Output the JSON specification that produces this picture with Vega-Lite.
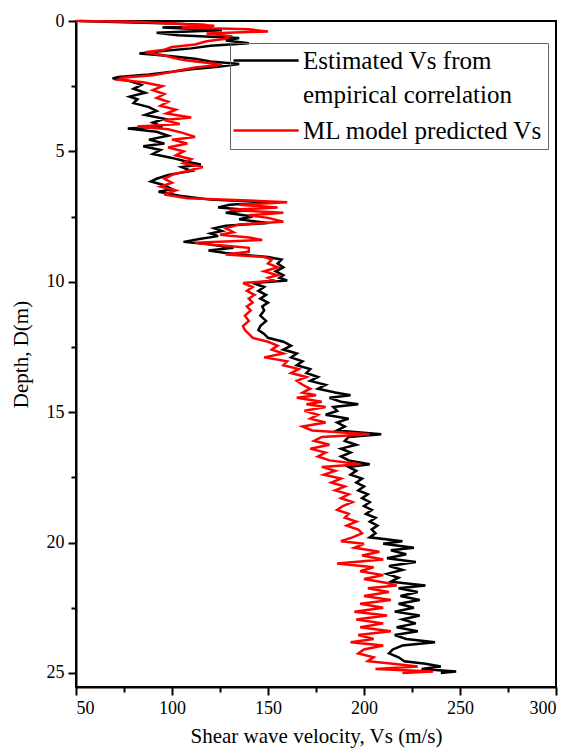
{
  "$schema": "https://vega.github.io/schema/vega-lite/v6.json",
  "width": 480,
  "height": 666,
  "autosize": {"type": "none"},
  "padding": {"left": 76, "top": 21, "right": 18, "bottom": 66},
  "background": "white",
  "config": {
    "font": "Liberation Serif",
    "view": {"stroke": "black", "strokeWidth": 2},
    "axis": {
      "labelFont": "Liberation Serif", "labelFontSize": 18, "labelColor": "#000",
      "titleFont": "Liberation Serif", "titleFontSize": 21, "titleFontWeight": "normal", "titleColor": "#000",
      "domainColor": "#000", "domainWidth": 2, "tickColor": "#000", "tickWidth": 2, "tickSize": 8, "grid": false
    },
    "legend": {
      "labelFont": "Liberation Serif", "labelFontSize": 25, "labelColor": "#000", "labelLimit": 500,
      "strokeColor": "#666", "strokeWidth": 1, "padding": 5, "symbolType": "M-1.75,0H6.4",
      "symbolSize": 256, "symbolStrokeWidth": 2.5, "labelOffset": 43, "rowPadding": 10
    }
  },
  "resolve": {"axis": {"x": "independent", "y": "independent"}},
  "datasets": {
    "E": [
      {"depth":0.00,"vs":52},{"depth":0.05,"vs":75},{"depth":0.10,"vs":100},{"depth":0.15,"vs":118},{"depth":0.25,"vs":95},{"depth":0.35,"vs":126},{"depth":0.45,"vs":92},{"depth":0.55,"vs":103},{"depth":0.65,"vs":135},{"depth":0.75,"vs":128},{"depth":0.85,"vs":140},{"depth":0.95,"vs":120},{"depth":1.05,"vs":110},{"depth":1.15,"vs":95},{"depth":1.25,"vs":83},{"depth":1.35,"vs":100},{"depth":1.45,"vs":112},{"depth":1.55,"vs":120},{"depth":1.65,"vs":135},{"depth":1.75,"vs":124},{"depth":1.85,"vs":110},{"depth":1.95,"vs":100},{"depth":2.05,"vs":88},{"depth":2.15,"vs":72},{"depth":2.20,"vs":69},{"depth":2.30,"vs":78},{"depth":2.45,"vs":84},{"depth":2.6,"vs":80},{"depth":2.75,"vs":86},{"depth":2.9,"vs":78},{"depth":3.0,"vs":82},{"depth":3.15,"vs":80},{"depth":3.3,"vs":88},{"depth":3.45,"vs":92},{"depth":3.6,"vs":86},{"depth":3.75,"vs":96},{"depth":3.9,"vs":90},{"depth":4.05,"vs":95},{"depth":4.12,"vs":77},{"depth":4.25,"vs":92},{"depth":4.4,"vs":98},{"depth":4.55,"vs":88},{"depth":4.7,"vs":96},{"depth":4.8,"vs":85},{"depth":4.95,"vs":94},{"depth":5.1,"vs":90},{"depth":5.25,"vs":100},{"depth":5.4,"vs":108},{"depth":5.5,"vs":115},{"depth":5.6,"vs":105},{"depth":5.75,"vs":110},{"depth":5.9,"vs":98},{"depth":6.05,"vs":92},{"depth":6.15,"vs":89},{"depth":6.3,"vs":96},{"depth":6.45,"vs":100},{"depth":6.55,"vs":93},{"depth":6.7,"vs":104},{"depth":6.85,"vs":120},{"depth":6.95,"vs":150},{"depth":7.05,"vs":130},{"depth":7.15,"vs":124},{"depth":7.25,"vs":140},{"depth":7.35,"vs":128},{"depth":7.5,"vs":142},{"depth":7.6,"vs":135},{"depth":7.75,"vs":150},{"depth":7.85,"vs":128},{"depth":7.95,"vs":122},{"depth":8.05,"vs":126},{"depth":8.15,"vs":120},{"depth":8.25,"vs":124},{"depth":8.35,"vs":115},{"depth":8.47,"vs":106},{"depth":8.55,"vs":118},{"depth":8.7,"vs":132},{"depth":8.8,"vs":119},{"depth":8.9,"vs":128},{"depth":9.05,"vs":150},{"depth":9.15,"vs":157},{"depth":9.3,"vs":155},{"depth":9.45,"vs":158},{"depth":9.6,"vs":154},{"depth":9.75,"vs":158},{"depth":9.85,"vs":156},{"depth":9.95,"vs":160},{"depth":10.05,"vs":142},{"depth":10.2,"vs":148},{"depth":10.35,"vs":145},{"depth":10.5,"vs":149},{"depth":10.65,"vs":146},{"depth":10.8,"vs":150},{"depth":10.95,"vs":147},{"depth":11.1,"vs":148},{"depth":11.3,"vs":146},{"depth":11.5,"vs":149},{"depth":11.7,"vs":146},{"depth":11.85,"vs":145},{"depth":12.0,"vs":148},{"depth":12.15,"vs":150},{"depth":12.3,"vs":158},{"depth":12.45,"vs":162},{"depth":12.6,"vs":158},{"depth":12.75,"vs":165},{"depth":12.9,"vs":162},{"depth":13.05,"vs":168},{"depth":13.2,"vs":165},{"depth":13.35,"vs":172},{"depth":13.5,"vs":170},{"depth":13.65,"vs":176},{"depth":13.8,"vs":172},{"depth":13.95,"vs":180},{"depth":14.1,"vs":176},{"depth":14.25,"vs":185},{"depth":14.35,"vs":193},{"depth":14.45,"vs":182},{"depth":14.6,"vs":188},{"depth":14.7,"vs":197},{"depth":14.8,"vs":184},{"depth":14.95,"vs":186},{"depth":15.1,"vs":180},{"depth":15.25,"vs":192},{"depth":15.4,"vs":186},{"depth":15.55,"vs":190},{"depth":15.7,"vs":186},{"depth":15.85,"vs":209},{"depth":15.95,"vs":192},{"depth":16.1,"vs":190},{"depth":16.25,"vs":196},{"depth":16.4,"vs":188},{"depth":16.55,"vs":193},{"depth":16.7,"vs":188},{"depth":16.85,"vs":192},{"depth":17.0,"vs":203},{"depth":17.1,"vs":192},{"depth":17.25,"vs":196},{"depth":17.4,"vs":193},{"depth":17.55,"vs":199},{"depth":17.7,"vs":196},{"depth":17.85,"vs":200},{"depth":18.0,"vs":197},{"depth":18.15,"vs":202},{"depth":18.3,"vs":199},{"depth":18.45,"vs":203},{"depth":18.6,"vs":200},{"depth":18.75,"vs":204},{"depth":18.9,"vs":201},{"depth":19.05,"vs":206},{"depth":19.2,"vs":203},{"depth":19.35,"vs":207},{"depth":19.5,"vs":204},{"depth":19.65,"vs":206},{"depth":19.8,"vs":203},{"depth":19.95,"vs":220},{"depth":20.05,"vs":210},{"depth":20.2,"vs":226},{"depth":20.3,"vs":214},{"depth":20.45,"vs":222},{"depth":20.6,"vs":212},{"depth":20.75,"vs":227},{"depth":20.9,"vs":213},{"depth":21.05,"vs":220},{"depth":21.2,"vs":212},{"depth":21.35,"vs":218},{"depth":21.5,"vs":214},{"depth":21.65,"vs":232},{"depth":21.75,"vs":218},{"depth":21.9,"vs":228},{"depth":22.05,"vs":219},{"depth":22.2,"vs":229},{"depth":22.35,"vs":218},{"depth":22.5,"vs":226},{"depth":22.65,"vs":216},{"depth":22.8,"vs":229},{"depth":22.95,"vs":220},{"depth":23.1,"vs":227},{"depth":23.25,"vs":217},{"depth":23.4,"vs":228},{"depth":23.55,"vs":216},{"depth":23.7,"vs":222},{"depth":23.82,"vs":237},{"depth":23.95,"vs":220},{"depth":24.1,"vs":215},{"depth":24.25,"vs":213},{"depth":24.4,"vs":218},{"depth":24.55,"vs":221},{"depth":24.65,"vs":232},{"depth":24.75,"vs":240},{"depth":24.85,"vs":230},{"depth":24.95,"vs":248},{"depth":25.0,"vs":240}
    ],
    "M": [
      {"depth":0.00,"vs":50},{"depth":0.03,"vs":80},{"depth":0.10,"vs":100},{"depth":0.18,"vs":122},{"depth":0.25,"vs":105},{"depth":0.32,"vs":140},{"depth":0.40,"vs":150},{"depth":0.48,"vs":118},{"depth":0.58,"vs":130},{"depth":0.68,"vs":128},{"depth":0.78,"vs":118},{"depth":0.90,"vs":112},{"depth":1.00,"vs":100},{"depth":1.10,"vs":96},{"depth":1.20,"vs":86},{"depth":1.30,"vs":95},{"depth":1.40,"vs":100},{"depth":1.50,"vs":106},{"depth":1.60,"vs":118},{"depth":1.68,"vs":126},{"depth":1.78,"vs":112},{"depth":1.88,"vs":105},{"depth":1.98,"vs":98},{"depth":2.08,"vs":90},{"depth":2.18,"vs":74},{"depth":2.25,"vs":72},{"depth":2.35,"vs":85},{"depth":2.5,"vs":95},{"depth":2.65,"vs":90},{"depth":2.8,"vs":96},{"depth":2.95,"vs":92},{"depth":3.1,"vs":98},{"depth":3.25,"vs":94},{"depth":3.4,"vs":102},{"depth":3.55,"vs":97},{"depth":3.7,"vs":110},{"depth":3.8,"vs":96},{"depth":3.95,"vs":104},{"depth":4.05,"vs":82},{"depth":4.15,"vs":98},{"depth":4.3,"vs":106},{"depth":4.45,"vs":112},{"depth":4.55,"vs":100},{"depth":4.7,"vs":108},{"depth":4.85,"vs":98},{"depth":5.0,"vs":106},{"depth":5.15,"vs":102},{"depth":5.3,"vs":110},{"depth":5.45,"vs":106},{"depth":5.6,"vs":116},{"depth":5.75,"vs":108},{"depth":5.9,"vs":100},{"depth":6.05,"vs":96},{"depth":6.2,"vs":100},{"depth":6.35,"vs":94},{"depth":6.5,"vs":102},{"depth":6.65,"vs":96},{"depth":6.8,"vs":108},{"depth":6.88,"vs":140},{"depth":6.95,"vs":160},{"depth":7.05,"vs":135},{"depth":7.15,"vs":155},{"depth":7.25,"vs":130},{"depth":7.35,"vs":158},{"depth":7.45,"vs":140},{"depth":7.55,"vs":150},{"depth":7.7,"vs":158},{"depth":7.8,"vs":135},{"depth":7.95,"vs":128},{"depth":8.1,"vs":132},{"depth":8.2,"vs":125},{"depth":8.3,"vs":140},{"depth":8.4,"vs":147},{"depth":8.5,"vs":112},{"depth":8.6,"vs":125},{"depth":8.7,"vs":140},{"depth":8.85,"vs":140},{"depth":8.95,"vs":128},{"depth":9.05,"vs":148},{"depth":9.15,"vs":152},{"depth":9.3,"vs":150},{"depth":9.45,"vs":155},{"depth":9.6,"vs":148},{"depth":9.75,"vs":155},{"depth":9.85,"vs":150},{"depth":9.95,"vs":153},{"depth":10.05,"vs":137},{"depth":10.2,"vs":142},{"depth":10.35,"vs":139},{"depth":10.5,"vs":143},{"depth":10.65,"vs":140},{"depth":10.8,"vs":142},{"depth":10.95,"vs":139},{"depth":11.1,"vs":141},{"depth":11.3,"vs":138},{"depth":11.5,"vs":140},{"depth":11.7,"vs":137},{"depth":11.85,"vs":138},{"depth":12.0,"vs":140},{"depth":12.15,"vs":142},{"depth":12.3,"vs":150},{"depth":12.45,"vs":155},{"depth":12.6,"vs":152},{"depth":12.75,"vs":158},{"depth":12.9,"vs":148},{"depth":13.05,"vs":160},{"depth":13.2,"vs":158},{"depth":13.35,"vs":166},{"depth":13.5,"vs":162},{"depth":13.65,"vs":170},{"depth":13.8,"vs":165},{"depth":13.95,"vs":168},{"depth":14.1,"vs":172},{"depth":14.25,"vs":168},{"depth":14.35,"vs":175},{"depth":14.45,"vs":165},{"depth":14.6,"vs":178},{"depth":14.7,"vs":170},{"depth":14.8,"vs":180},{"depth":14.95,"vs":169},{"depth":15.1,"vs":176},{"depth":15.25,"vs":172},{"depth":15.4,"vs":180},{"depth":15.55,"vs":168},{"depth":15.7,"vs":173},{"depth":15.85,"vs":203},{"depth":15.95,"vs":178},{"depth":16.1,"vs":174},{"depth":16.25,"vs":182},{"depth":16.4,"vs":172},{"depth":16.55,"vs":180},{"depth":16.7,"vs":176},{"depth":16.85,"vs":182},{"depth":17.0,"vs":198},{"depth":17.1,"vs":178},{"depth":17.25,"vs":185},{"depth":17.4,"vs":179},{"depth":17.55,"vs":188},{"depth":17.7,"vs":183},{"depth":17.85,"vs":190},{"depth":18.0,"vs":185},{"depth":18.15,"vs":192},{"depth":18.3,"vs":188},{"depth":18.45,"vs":194},{"depth":18.6,"vs":189},{"depth":18.75,"vs":186},{"depth":18.9,"vs":192},{"depth":19.05,"vs":190},{"depth":19.2,"vs":196},{"depth":19.35,"vs":191},{"depth":19.5,"vs":197},{"depth":19.65,"vs":199},{"depth":19.8,"vs":194},{"depth":19.95,"vs":188},{"depth":20.05,"vs":200},{"depth":20.2,"vs":195},{"depth":20.35,"vs":208},{"depth":20.5,"vs":199},{"depth":20.65,"vs":210},{"depth":20.8,"vs":186},{"depth":20.95,"vs":205},{"depth":21.1,"vs":198},{"depth":21.25,"vs":210},{"depth":21.4,"vs":200},{"depth":21.55,"vs":212},{"depth":21.65,"vs":217},{"depth":21.75,"vs":202},{"depth":21.9,"vs":213},{"depth":22.05,"vs":200},{"depth":22.2,"vs":214},{"depth":22.35,"vs":198},{"depth":22.5,"vs":210},{"depth":22.65,"vs":195},{"depth":22.8,"vs":212},{"depth":22.95,"vs":196},{"depth":23.1,"vs":210},{"depth":23.25,"vs":198},{"depth":23.4,"vs":214},{"depth":23.55,"vs":197},{"depth":23.7,"vs":205},{"depth":23.82,"vs":193},{"depth":23.95,"vs":210},{"depth":24.1,"vs":200},{"depth":24.25,"vs":197},{"depth":24.4,"vs":205},{"depth":24.55,"vs":202},{"depth":24.65,"vs":215},{"depth":24.75,"vs":228},{"depth":24.85,"vs":206},{"depth":24.95,"vs":236},{"depth":25.0,"vs":220}
    ]
  },
  "layer": [
    {
      "data": {"name": "E"},
      "mark": {"type": "line", "strokeWidth": 2.5, "color": "#000000"},
      "encoding": {
        "x": {"field": "vs", "type": "quantitative", "scale": {"domain": [50, 300], "nice": false, "zero": false},
              "axis": {"orient": "bottom", "values": [50, 100, 150, 200, 250, 300], "title": "Shear wave velocity, Vs (m/s)", "titlePadding": 8, "labelPadding": 4,
                       "labelFont": "Liberation Serif", "titleFont": "Liberation Serif"}},
        "y": {"field": "depth", "type": "quantitative", "scale": {"domain": [0, 25.54], "reverse": true, "nice": false, "zero": false},
              "axis": {"orient": "left", "values": [0, 5, 10, 15, 20, 25], "title": "Depth, D(m)", "titlePadding": 15, "labelPadding": 4,
                       "labelFont": "Liberation Serif", "titleFont": "Liberation Serif"}},
        "order": {"field": "depth", "type": "quantitative"},
        "stroke": {"datum": "Estimated", "type": "nominal",
                  "scale": {"domain": ["Estimated", "ML"], "range": ["#000000", "#ff0000"]},
                  "legend": {"title": null, "orient": "none", "legendX": 154, "legendY": 22,
                             "labelExpr": "datum.label == 'Estimated' ? ['Estimated Vs from', 'empirical correlation'] : 'ML model predicted Vs'",
                             "encode": {"labels": {"update": {"lineHeight": {"value": 34}, "font": {"value": "Liberation Serif"}}}}}}
      }
    },
    {
      "data": {"name": "M"},
      "mark": {"type": "line", "strokeWidth": 2.5, "color": "#ff0000"},
      "encoding": {
        "x": {"field": "vs", "type": "quantitative",
              "axis": {"orient": "bottom", "values": [75, 125, 175, 225, 275], "labels": false, "domain": false, "title": null, "tickSize": 5}},
        "y": {"field": "depth", "type": "quantitative",
              "axis": {"orient": "left", "values": [2.5, 7.5, 12.5, 17.5, 22.5], "labels": false, "domain": false, "title": null, "tickSize": 5}},
        "order": {"field": "depth", "type": "quantitative"},
        "stroke": {"datum": "ML", "type": "nominal"}
      }
    }
  ]
}
